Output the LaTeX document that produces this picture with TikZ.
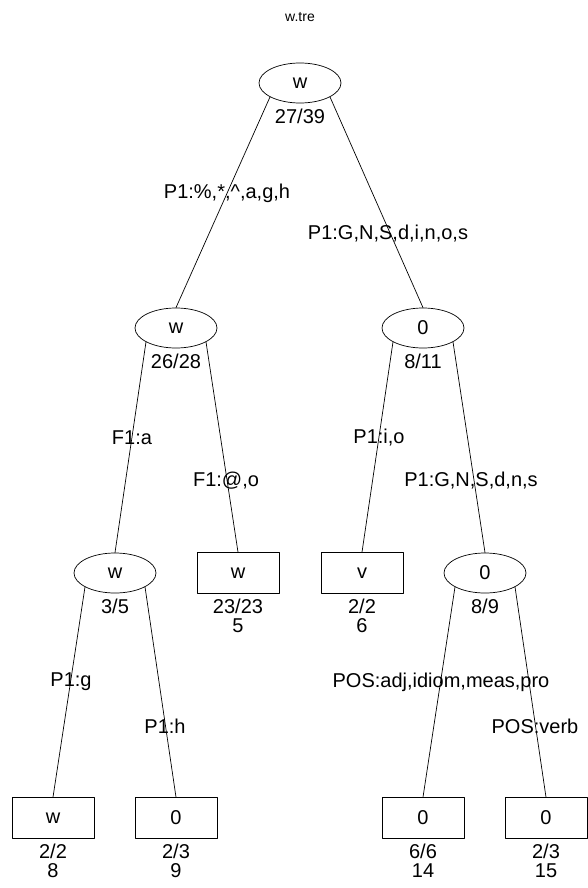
\documentclass[tikz,border=0pt]{standalone}
\usepackage{fontspec}
\setmainfont{Liberation Sans}
\usetikzlibrary{positioning,shapes.geometric}
\tikzset{
  splitv/.style={ellipse, draw, minimum width=82pt, minimum height=40pt, inner sep=0pt},
  leafv/.style={rectangle, draw, minimum width=82pt, minimum height=41pt, inner sep=0pt},
  cnt/.style={inner sep=0pt, align=center},
  elab/.style={inner sep=0pt},
  every picture/.style={line cap=round, line join=round}
}
\begin{document}
\begin{tikzpicture}[x=1pt, y=-1pt, font=\fontsize{20}{19}\selectfont, line width=0.7pt]
  \useasboundingbox (0,0) rectangle (588,888);
  \node[font=\fontsize{14}{16}\selectfont] (title) at (300,17) {w.tre};

  % splits and leaves
  \node[splitv] (root) at (300,83) {w};
  \node[splitv] (nw) at (176,328) {w};
  \node[splitv] (nz) at (423,328) {0};
  \node[splitv] (nww) at (115,573) {w};
  \node[leafv] (lw5) at (238,573) {w};
  \node[leafv] (lv6) at (362,573) {v};
  \node[splitv] (nzz) at (485,573) {0};
  \node[leafv] (lw8) at (53,818) {w};
  \node[leafv] (lz9) at (176,818) {0};
  \node[leafv] (lz14) at (423,818) {0};
  \node[leafv] (lz15) at (546,818) {0};

  % counts
  \node[cnt, below=5pt of root] (croot) {27/39};
  \node[cnt, below=5pt of nw] (cnw) {26/28};
  \node[cnt, below=5pt of nz] (cnz) {8/11};
  \node[cnt, below=5pt of nww] (cnww) {3/5};
  \node[cnt, below=5pt of lw5] (clw5) {23/23\\5};
  \node[cnt, below=5pt of lv6] (clv6) {2/2\\6};
  \node[cnt, below=5pt of nzz] (cnzz) {8/9};
  \node[cnt, below=5pt of lw8] (clw8) {2/2\\8};
  \node[cnt, below=5pt of lz9] (clz9) {2/3\\9};
  \node[cnt, below=5pt of lz14] (clz14) {6/6\\14};
  \node[cnt, below=5pt of lz15] (clz15) {2/3\\15};

  % edges
  \draw (root.-155) -- (nw.north);
  \draw (root.-25) -- (nz.north);
  \draw (nw.-155) -- (nww.north);
  \draw (nw.-25) -- (lw5.north);
  \draw (nz.-155) -- (lv6.north);
  \draw (nz.-25) -- (nzz.north);
  \draw (nww.-155) -- (lw8.north);
  \draw (nww.-25) -- (lz9.north);
  \draw (nzz.-155) -- (lz14.north);
  \draw (nzz.-25) -- (lz15.north);

  % edge labels
  \node[elab] (e1) at (227,193) {P1:\%,*,\textasciicircum,a,g,h};
  \node[elab] (e2) at (388,234) {P1:G,N,S,d,i,n,o,s};
  \node[elab] (e3) at (132,438) {F1:a};
  \node[elab] (e4) at (226,481) {F1:@,o};
  \node[elab] (e5) at (379,438) {P1:i,o};
  \node[elab] (e6) at (471,481) {P1:G,N,S,d,n,s};
  \node[elab] (e7) at (71,682) {P1:g};
  \node[elab] (e8) at (165,726) {P1:h};
  \node[elab] (e9) at (441,682) {POS:adj,idiom,meas,pro};
  \node[elab] (e10) at (535,726) {POS:verb};
\end{tikzpicture}
\end{document}
